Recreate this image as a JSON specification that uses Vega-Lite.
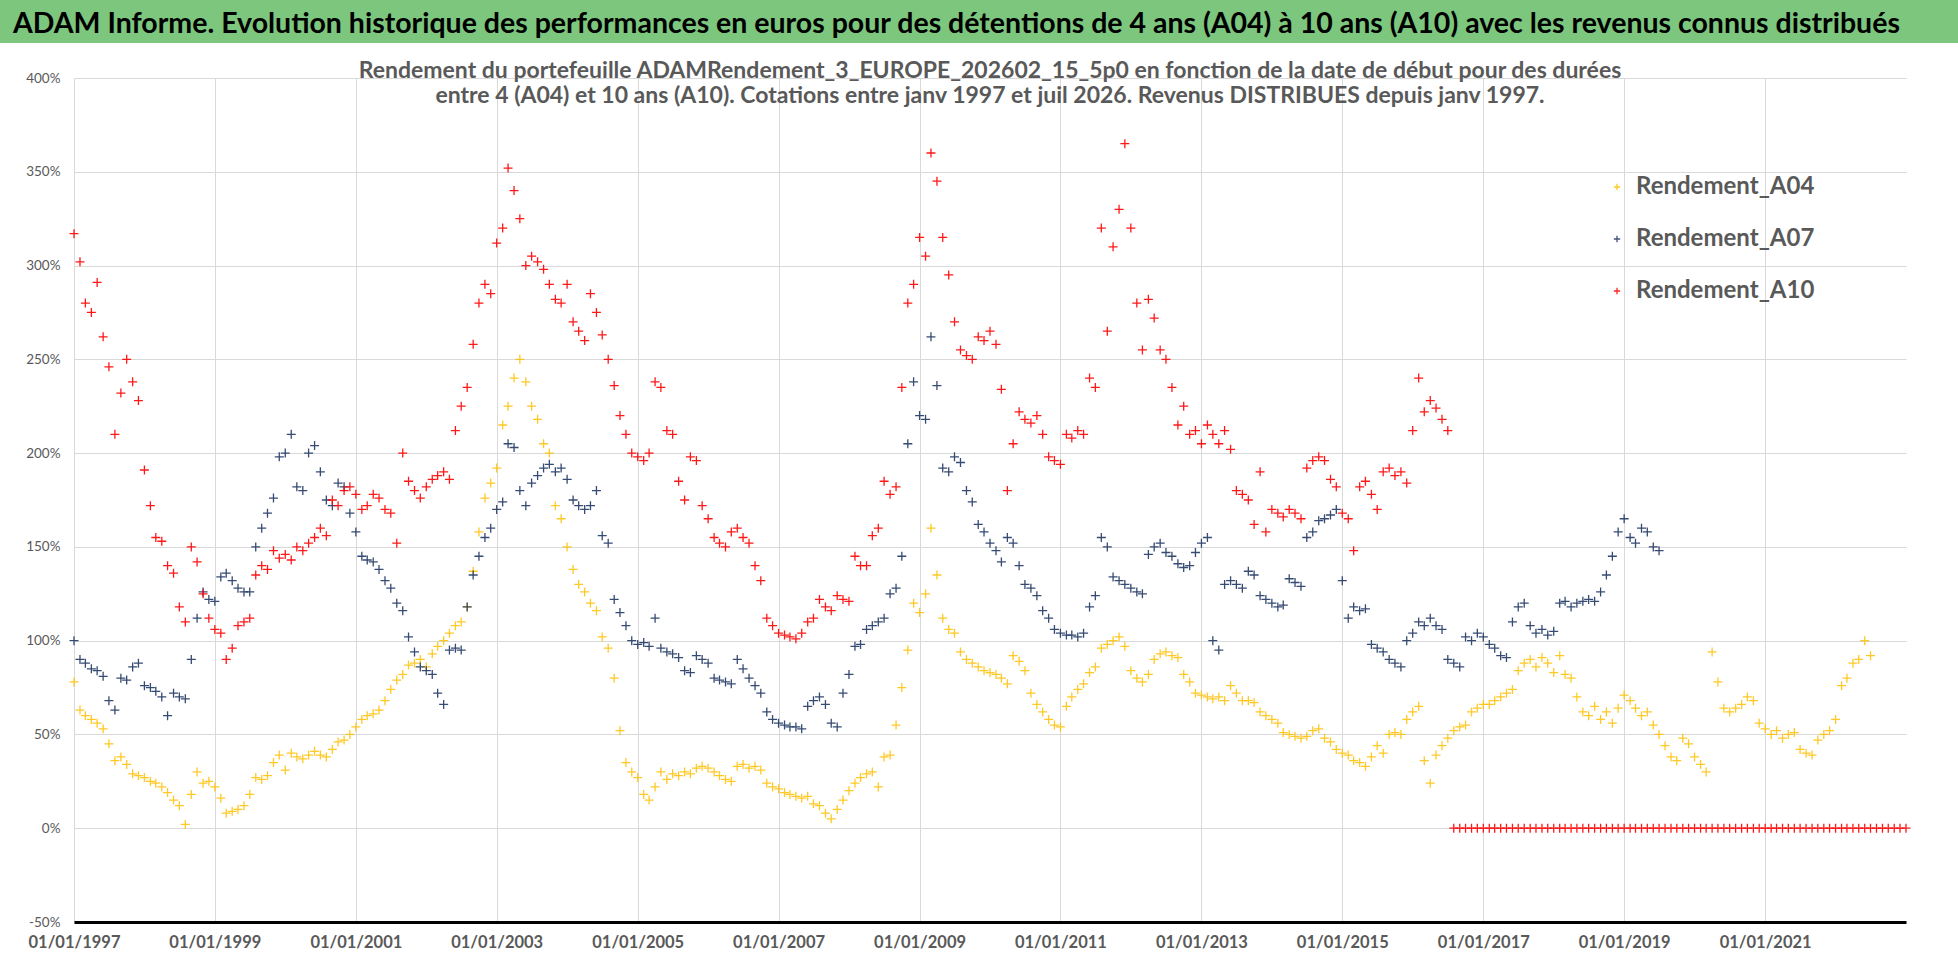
{
  "$schema": "https://vega.github.io/schema/vega-lite/v6.json",
  "background": "white",
  "padding": 0,
  "spacing": 35,
  "center": true,
  "bounds": "flush",
  "config": {"view": {"stroke": null}, "font": "Lato"},
  "datasets": {
    "A04": [
      {"d":"1997-01","r":78},{"d":"1997-02","r":63},{"d":"1997-03","r":60},{"d":"1997-04","r":58},{"d":"1997-05","r":56},{"d":"1997-06","r":53},{"d":"1997-07","r":45},{"d":"1997-08","r":36},{"d":"1997-09","r":38},{"d":"1997-10","r":34},{"d":"1997-11","r":29},{"d":"1997-12","r":28},
      {"d":"1998-01","r":27},{"d":"1998-02","r":25},{"d":"1998-03","r":24},{"d":"1998-04","r":22},{"d":"1998-05","r":19},{"d":"1998-06","r":15},{"d":"1998-07","r":12},{"d":"1998-08","r":2},{"d":"1998-09","r":18},{"d":"1998-10","r":30},{"d":"1998-11","r":24},{"d":"1998-12","r":25},
      {"d":"1999-01","r":22},{"d":"1999-02","r":16},{"d":"1999-03","r":8},{"d":"1999-04","r":9},{"d":"1999-05","r":10},{"d":"1999-06","r":12},{"d":"1999-07","r":18},{"d":"1999-08","r":27},{"d":"1999-09","r":26},{"d":"1999-10","r":28},{"d":"1999-11","r":35},{"d":"1999-12","r":39},
      {"d":"2000-01","r":31},{"d":"2000-02","r":40},{"d":"2000-03","r":38},{"d":"2000-04","r":37},{"d":"2000-05","r":39},{"d":"2000-06","r":41},{"d":"2000-07","r":39},{"d":"2000-08","r":38},{"d":"2000-09","r":42},{"d":"2000-10","r":46},{"d":"2000-11","r":47},{"d":"2000-12","r":50},
      {"d":"2001-01","r":54},{"d":"2001-02","r":58},{"d":"2001-03","r":60},{"d":"2001-04","r":61},{"d":"2001-05","r":63},{"d":"2001-06","r":68},{"d":"2001-07","r":74},{"d":"2001-08","r":79},{"d":"2001-09","r":82},{"d":"2001-10","r":87},{"d":"2001-11","r":88},{"d":"2001-12","r":90},
      {"d":"2002-01","r":86},{"d":"2002-02","r":93},{"d":"2002-03","r":97},{"d":"2002-04","r":100},{"d":"2002-05","r":104},{"d":"2002-06","r":108},{"d":"2002-07","r":110},{"d":"2002-08","r":118},{"d":"2002-09","r":137},{"d":"2002-10","r":158},{"d":"2002-11","r":176},{"d":"2002-12","r":184},
      {"d":"2003-01","r":192},{"d":"2003-02","r":215},{"d":"2003-03","r":225},{"d":"2003-04","r":240},{"d":"2003-05","r":250},{"d":"2003-06","r":238},{"d":"2003-07","r":225},{"d":"2003-08","r":218},{"d":"2003-09","r":205},{"d":"2003-10","r":200},{"d":"2003-11","r":172},{"d":"2003-12","r":165},
      {"d":"2004-01","r":150},{"d":"2004-02","r":138},{"d":"2004-03","r":130},{"d":"2004-04","r":126},{"d":"2004-05","r":120},{"d":"2004-06","r":116},{"d":"2004-07","r":102},{"d":"2004-08","r":96},{"d":"2004-09","r":80},{"d":"2004-10","r":52},{"d":"2004-11","r":35},{"d":"2004-12","r":30},
      {"d":"2005-01","r":27},{"d":"2005-02","r":18},{"d":"2005-03","r":15},{"d":"2005-04","r":22},{"d":"2005-05","r":30},{"d":"2005-06","r":26},{"d":"2005-07","r":29},{"d":"2005-08","r":28},{"d":"2005-09","r":30},{"d":"2005-10","r":29},{"d":"2005-11","r":32},{"d":"2005-12","r":33},
      {"d":"2006-01","r":32},{"d":"2006-02","r":30},{"d":"2006-03","r":28},{"d":"2006-04","r":26},{"d":"2006-05","r":25},{"d":"2006-06","r":33},{"d":"2006-07","r":34},{"d":"2006-08","r":32},{"d":"2006-09","r":33},{"d":"2006-10","r":31},{"d":"2006-11","r":24},{"d":"2006-12","r":22},
      {"d":"2007-01","r":21},{"d":"2007-02","r":19},{"d":"2007-03","r":18},{"d":"2007-04","r":17},{"d":"2007-05","r":16},{"d":"2007-06","r":17},{"d":"2007-07","r":13},{"d":"2007-08","r":12},{"d":"2007-09","r":8},{"d":"2007-10","r":5},{"d":"2007-11","r":10},{"d":"2007-12","r":15},
      {"d":"2008-01","r":20},{"d":"2008-02","r":24},{"d":"2008-03","r":27},{"d":"2008-04","r":29},{"d":"2008-05","r":30},{"d":"2008-06","r":22},{"d":"2008-07","r":38},{"d":"2008-08","r":39},{"d":"2008-09","r":55},{"d":"2008-10","r":75},{"d":"2008-11","r":95},{"d":"2008-12","r":120},
      {"d":"2009-01","r":115},{"d":"2009-02","r":125},{"d":"2009-03","r":160},{"d":"2009-04","r":135},{"d":"2009-05","r":112},{"d":"2009-06","r":106},{"d":"2009-07","r":104},{"d":"2009-08","r":94},{"d":"2009-09","r":90},{"d":"2009-10","r":88},{"d":"2009-11","r":86},{"d":"2009-12","r":84},
      {"d":"2010-01","r":83},{"d":"2010-02","r":82},{"d":"2010-03","r":80},{"d":"2010-04","r":77},{"d":"2010-05","r":92},{"d":"2010-06","r":89},{"d":"2010-07","r":84},{"d":"2010-08","r":72},{"d":"2010-09","r":66},{"d":"2010-10","r":62},{"d":"2010-11","r":58},{"d":"2010-12","r":55},
      {"d":"2011-01","r":54},{"d":"2011-02","r":65},{"d":"2011-03","r":70},{"d":"2011-04","r":74},{"d":"2011-05","r":77},{"d":"2011-06","r":83},{"d":"2011-07","r":86},{"d":"2011-08","r":96},{"d":"2011-09","r":98},{"d":"2011-10","r":100},{"d":"2011-11","r":102},{"d":"2011-12","r":97},
      {"d":"2012-01","r":84},{"d":"2012-02","r":80},{"d":"2012-03","r":78},{"d":"2012-04","r":82},{"d":"2012-05","r":90},{"d":"2012-06","r":93},{"d":"2012-07","r":94},{"d":"2012-08","r":92},{"d":"2012-09","r":91},{"d":"2012-10","r":82},{"d":"2012-11","r":78},{"d":"2012-12","r":72},
      {"d":"2013-01","r":71},{"d":"2013-02","r":70},{"d":"2013-03","r":69},{"d":"2013-04","r":70},{"d":"2013-05","r":68},{"d":"2013-06","r":76},{"d":"2013-07","r":72},{"d":"2013-08","r":68},{"d":"2013-09","r":68},{"d":"2013-10","r":67},{"d":"2013-11","r":62},{"d":"2013-12","r":60},
      {"d":"2014-01","r":58},{"d":"2014-02","r":56},{"d":"2014-03","r":51},{"d":"2014-04","r":50},{"d":"2014-05","r":49},{"d":"2014-06","r":48},{"d":"2014-07","r":49},{"d":"2014-08","r":52},{"d":"2014-09","r":53},{"d":"2014-10","r":48},{"d":"2014-11","r":46},{"d":"2014-12","r":42},
      {"d":"2015-01","r":40},{"d":"2015-02","r":39},{"d":"2015-03","r":36},{"d":"2015-04","r":35},{"d":"2015-05","r":33},{"d":"2015-06","r":38},{"d":"2015-07","r":44},{"d":"2015-08","r":40},{"d":"2015-09","r":50},{"d":"2015-10","r":51},{"d":"2015-11","r":50},{"d":"2015-12","r":58},
      {"d":"2016-01","r":62},{"d":"2016-02","r":65},{"d":"2016-03","r":36},{"d":"2016-04","r":24},{"d":"2016-05","r":39},{"d":"2016-06","r":44},{"d":"2016-07","r":48},{"d":"2016-08","r":52},{"d":"2016-09","r":54},{"d":"2016-10","r":55},{"d":"2016-11","r":62},{"d":"2016-12","r":64},
      {"d":"2017-01","r":66},{"d":"2017-02","r":66},{"d":"2017-03","r":68},{"d":"2017-04","r":70},{"d":"2017-05","r":72},{"d":"2017-06","r":74},{"d":"2017-07","r":84},{"d":"2017-08","r":88},{"d":"2017-09","r":90},{"d":"2017-10","r":86},{"d":"2017-11","r":91},{"d":"2017-12","r":88},
      {"d":"2018-01","r":83},{"d":"2018-02","r":92},{"d":"2018-03","r":82},{"d":"2018-04","r":80},{"d":"2018-05","r":70},{"d":"2018-06","r":62},{"d":"2018-07","r":60},{"d":"2018-08","r":65},{"d":"2018-09","r":58},{"d":"2018-10","r":62},{"d":"2018-11","r":56},{"d":"2018-12","r":64},
      {"d":"2019-01","r":71},{"d":"2019-02","r":68},{"d":"2019-03","r":64},{"d":"2019-04","r":60},{"d":"2019-05","r":62},{"d":"2019-06","r":55},{"d":"2019-07","r":50},{"d":"2019-08","r":44},{"d":"2019-09","r":38},{"d":"2019-10","r":36},{"d":"2019-11","r":48},{"d":"2019-12","r":45},
      {"d":"2020-01","r":38},{"d":"2020-02","r":34},{"d":"2020-03","r":30},{"d":"2020-04","r":94},{"d":"2020-05","r":78},{"d":"2020-06","r":64},{"d":"2020-07","r":62},{"d":"2020-08","r":64},{"d":"2020-09","r":66},{"d":"2020-10","r":70},{"d":"2020-11","r":68},{"d":"2020-12","r":56},
      {"d":"2021-01","r":53},{"d":"2021-02","r":50},{"d":"2021-03","r":52},{"d":"2021-04","r":48},{"d":"2021-05","r":50},{"d":"2021-06","r":51},{"d":"2021-07","r":42},{"d":"2021-08","r":40},{"d":"2021-09","r":39},{"d":"2021-10","r":47},{"d":"2021-11","r":50},{"d":"2021-12","r":52},
      {"d":"2022-01","r":58},{"d":"2022-02","r":76},{"d":"2022-03","r":80},{"d":"2022-04","r":88},{"d":"2022-05","r":90},{"d":"2022-06","r":100},{"d":"2022-07","r":92}
    ],
    "A07": [
      {"d":"1997-01","r":100},{"d":"1997-02","r":90},{"d":"1997-03","r":88},{"d":"1997-04","r":85},{"d":"1997-05","r":84},{"d":"1997-06","r":81},{"d":"1997-07","r":68},{"d":"1997-08","r":63},{"d":"1997-09","r":80},{"d":"1997-10","r":79},{"d":"1997-11","r":86},{"d":"1997-12","r":88},
      {"d":"1998-01","r":76},{"d":"1998-02","r":75},{"d":"1998-03","r":73},{"d":"1998-04","r":70},{"d":"1998-05","r":60},{"d":"1998-06","r":72},{"d":"1998-07","r":70},{"d":"1998-08","r":69},{"d":"1998-09","r":90},{"d":"1998-10","r":112},{"d":"1998-11","r":126},{"d":"1998-12","r":122},
      {"d":"1999-01","r":121},{"d":"1999-02","r":134},{"d":"1999-03","r":136},{"d":"1999-04","r":132},{"d":"1999-05","r":128},{"d":"1999-06","r":126},{"d":"1999-07","r":126},{"d":"1999-08","r":150},{"d":"1999-09","r":160},{"d":"1999-10","r":168},{"d":"1999-11","r":176},{"d":"1999-12","r":198},
      {"d":"2000-01","r":200},{"d":"2000-02","r":210},{"d":"2000-03","r":182},{"d":"2000-04","r":180},{"d":"2000-05","r":200},{"d":"2000-06","r":204},{"d":"2000-07","r":190},{"d":"2000-08","r":175},{"d":"2000-09","r":172},{"d":"2000-10","r":184},{"d":"2000-11","r":182},{"d":"2000-12","r":168},
      {"d":"2001-01","r":158},{"d":"2001-02","r":145},{"d":"2001-03","r":143},{"d":"2001-04","r":142},{"d":"2001-05","r":138},{"d":"2001-06","r":132},{"d":"2001-07","r":128},{"d":"2001-08","r":120},{"d":"2001-09","r":116},{"d":"2001-10","r":102},{"d":"2001-11","r":94},{"d":"2001-12","r":86},
      {"d":"2002-01","r":84},{"d":"2002-02","r":82},{"d":"2002-03","r":72},{"d":"2002-04","r":66},{"d":"2002-05","r":95},{"d":"2002-06","r":96},{"d":"2002-07","r":95},{"d":"2002-08","r":118},{"d":"2002-09","r":135},{"d":"2002-10","r":145},{"d":"2002-11","r":155},{"d":"2002-12","r":160},
      {"d":"2003-01","r":170},{"d":"2003-02","r":174},{"d":"2003-03","r":205},{"d":"2003-04","r":203},{"d":"2003-05","r":180},{"d":"2003-06","r":172},{"d":"2003-07","r":184},{"d":"2003-08","r":188},{"d":"2003-09","r":192},{"d":"2003-10","r":194},{"d":"2003-11","r":190},{"d":"2003-12","r":192},
      {"d":"2004-01","r":186},{"d":"2004-02","r":175},{"d":"2004-03","r":172},{"d":"2004-04","r":170},{"d":"2004-05","r":172},{"d":"2004-06","r":180},{"d":"2004-07","r":156},{"d":"2004-08","r":152},{"d":"2004-09","r":122},{"d":"2004-10","r":115},{"d":"2004-11","r":108},{"d":"2004-12","r":100},
      {"d":"2005-01","r":98},{"d":"2005-02","r":99},{"d":"2005-03","r":97},{"d":"2005-04","r":112},{"d":"2005-05","r":96},{"d":"2005-06","r":94},{"d":"2005-07","r":93},{"d":"2005-08","r":91},{"d":"2005-09","r":84},{"d":"2005-10","r":83},{"d":"2005-11","r":92},{"d":"2005-12","r":90},
      {"d":"2006-01","r":88},{"d":"2006-02","r":80},{"d":"2006-03","r":79},{"d":"2006-04","r":78},{"d":"2006-05","r":77},{"d":"2006-06","r":90},{"d":"2006-07","r":85},{"d":"2006-08","r":80},{"d":"2006-09","r":76},{"d":"2006-10","r":72},{"d":"2006-11","r":62},{"d":"2006-12","r":58},
      {"d":"2007-01","r":56},{"d":"2007-02","r":55},{"d":"2007-03","r":54},{"d":"2007-04","r":54},{"d":"2007-05","r":53},{"d":"2007-06","r":65},{"d":"2007-07","r":68},{"d":"2007-08","r":70},{"d":"2007-09","r":66},{"d":"2007-10","r":56},{"d":"2007-11","r":54},{"d":"2007-12","r":72},
      {"d":"2008-01","r":82},{"d":"2008-02","r":97},{"d":"2008-03","r":98},{"d":"2008-04","r":106},{"d":"2008-05","r":108},{"d":"2008-06","r":110},{"d":"2008-07","r":112},{"d":"2008-08","r":125},{"d":"2008-09","r":128},{"d":"2008-10","r":145},{"d":"2008-11","r":205},{"d":"2008-12","r":238},
      {"d":"2009-01","r":220},{"d":"2009-02","r":218},{"d":"2009-03","r":262},{"d":"2009-04","r":236},{"d":"2009-05","r":192},{"d":"2009-06","r":190},{"d":"2009-07","r":198},{"d":"2009-08","r":195},{"d":"2009-09","r":180},{"d":"2009-10","r":174},{"d":"2009-11","r":162},{"d":"2009-12","r":158},
      {"d":"2010-01","r":152},{"d":"2010-02","r":148},{"d":"2010-03","r":142},{"d":"2010-04","r":155},{"d":"2010-05","r":152},{"d":"2010-06","r":140},{"d":"2010-07","r":130},{"d":"2010-08","r":128},{"d":"2010-09","r":124},{"d":"2010-10","r":116},{"d":"2010-11","r":112},{"d":"2010-12","r":106},
      {"d":"2011-01","r":104},{"d":"2011-02","r":103},{"d":"2011-03","r":103},{"d":"2011-04","r":102},{"d":"2011-05","r":104},{"d":"2011-06","r":118},{"d":"2011-07","r":124},{"d":"2011-08","r":155},{"d":"2011-09","r":150},{"d":"2011-10","r":134},{"d":"2011-11","r":132},{"d":"2011-12","r":130},
      {"d":"2012-01","r":128},{"d":"2012-02","r":126},{"d":"2012-03","r":125},{"d":"2012-04","r":146},{"d":"2012-05","r":150},{"d":"2012-06","r":152},{"d":"2012-07","r":147},{"d":"2012-08","r":145},{"d":"2012-09","r":141},{"d":"2012-10","r":139},{"d":"2012-11","r":140},{"d":"2012-12","r":147},
      {"d":"2013-01","r":152},{"d":"2013-02","r":155},{"d":"2013-03","r":100},{"d":"2013-04","r":95},{"d":"2013-05","r":130},{"d":"2013-06","r":132},{"d":"2013-07","r":130},{"d":"2013-08","r":128},{"d":"2013-09","r":137},{"d":"2013-10","r":135},{"d":"2013-11","r":124},{"d":"2013-12","r":122},
      {"d":"2014-01","r":120},{"d":"2014-02","r":118},{"d":"2014-03","r":119},{"d":"2014-04","r":133},{"d":"2014-05","r":131},{"d":"2014-06","r":129},{"d":"2014-07","r":155},{"d":"2014-08","r":158},{"d":"2014-09","r":164},{"d":"2014-10","r":165},{"d":"2014-11","r":167},{"d":"2014-12","r":170},
      {"d":"2015-01","r":132},{"d":"2015-02","r":112},{"d":"2015-03","r":118},{"d":"2015-04","r":116},{"d":"2015-05","r":117},{"d":"2015-06","r":98},{"d":"2015-07","r":96},{"d":"2015-08","r":94},{"d":"2015-09","r":90},{"d":"2015-10","r":88},{"d":"2015-11","r":86},{"d":"2015-12","r":100},
      {"d":"2016-01","r":104},{"d":"2016-02","r":110},{"d":"2016-03","r":108},{"d":"2016-04","r":112},{"d":"2016-05","r":108},{"d":"2016-06","r":106},{"d":"2016-07","r":90},{"d":"2016-08","r":88},{"d":"2016-09","r":86},{"d":"2016-10","r":102},{"d":"2016-11","r":100},{"d":"2016-12","r":104},
      {"d":"2017-01","r":102},{"d":"2017-02","r":98},{"d":"2017-03","r":96},{"d":"2017-04","r":92},{"d":"2017-05","r":91},{"d":"2017-06","r":110},{"d":"2017-07","r":118},{"d":"2017-08","r":120},{"d":"2017-09","r":108},{"d":"2017-10","r":104},{"d":"2017-11","r":106},{"d":"2017-12","r":103},
      {"d":"2018-01","r":105},{"d":"2018-02","r":120},{"d":"2018-03","r":121},{"d":"2018-04","r":118},{"d":"2018-05","r":120},{"d":"2018-06","r":121},{"d":"2018-07","r":122},{"d":"2018-08","r":121},{"d":"2018-09","r":126},{"d":"2018-10","r":135},{"d":"2018-11","r":145},{"d":"2018-12","r":158},
      {"d":"2019-01","r":165},{"d":"2019-02","r":155},{"d":"2019-03","r":152},{"d":"2019-04","r":160},{"d":"2019-05","r":158},{"d":"2019-06","r":150},{"d":"2019-07","r":148}
    ],
    "A10": [
      {"d":"1997-01","r":317},{"d":"1997-02","r":302},{"d":"1997-03","r":280},{"d":"1997-04","r":275},{"d":"1997-05","r":291},{"d":"1997-06","r":262},{"d":"1997-07","r":246},{"d":"1997-08","r":210},{"d":"1997-09","r":232},{"d":"1997-10","r":250},{"d":"1997-11","r":238},{"d":"1997-12","r":228},
      {"d":"1998-01","r":191},{"d":"1998-02","r":172},{"d":"1998-03","r":155},{"d":"1998-04","r":153},{"d":"1998-05","r":140},{"d":"1998-06","r":136},{"d":"1998-07","r":118},{"d":"1998-08","r":110},{"d":"1998-09","r":150},{"d":"1998-10","r":142},{"d":"1998-11","r":125},{"d":"1998-12","r":112},
      {"d":"1999-01","r":106},{"d":"1999-02","r":104},{"d":"1999-03","r":90},{"d":"1999-04","r":96},{"d":"1999-05","r":108},{"d":"1999-06","r":110},{"d":"1999-07","r":112},{"d":"1999-08","r":135},{"d":"1999-09","r":140},{"d":"1999-10","r":138},{"d":"1999-11","r":148},{"d":"1999-12","r":144},
      {"d":"2000-01","r":146},{"d":"2000-02","r":143},{"d":"2000-03","r":150},{"d":"2000-04","r":148},{"d":"2000-05","r":152},{"d":"2000-06","r":155},{"d":"2000-07","r":160},{"d":"2000-08","r":156},{"d":"2000-09","r":175},{"d":"2000-10","r":172},{"d":"2000-11","r":180},{"d":"2000-12","r":182},
      {"d":"2001-01","r":178},{"d":"2001-02","r":170},{"d":"2001-03","r":172},{"d":"2001-04","r":178},{"d":"2001-05","r":176},{"d":"2001-06","r":170},{"d":"2001-07","r":168},{"d":"2001-08","r":152},{"d":"2001-09","r":200},{"d":"2001-10","r":185},{"d":"2001-11","r":180},{"d":"2001-12","r":176},
      {"d":"2002-01","r":182},{"d":"2002-02","r":186},{"d":"2002-03","r":188},{"d":"2002-04","r":190},{"d":"2002-05","r":186},{"d":"2002-06","r":212},{"d":"2002-07","r":225},{"d":"2002-08","r":235},{"d":"2002-09","r":258},{"d":"2002-10","r":280},{"d":"2002-11","r":290},{"d":"2002-12","r":285},
      {"d":"2003-01","r":312},{"d":"2003-02","r":320},{"d":"2003-03","r":352},{"d":"2003-04","r":340},{"d":"2003-05","r":325},{"d":"2003-06","r":300},{"d":"2003-07","r":305},{"d":"2003-08","r":302},{"d":"2003-09","r":298},{"d":"2003-10","r":290},{"d":"2003-11","r":282},{"d":"2003-12","r":280},
      {"d":"2004-01","r":290},{"d":"2004-02","r":270},{"d":"2004-03","r":265},{"d":"2004-04","r":260},{"d":"2004-05","r":285},{"d":"2004-06","r":275},{"d":"2004-07","r":263},{"d":"2004-08","r":250},{"d":"2004-09","r":236},{"d":"2004-10","r":220},{"d":"2004-11","r":210},{"d":"2004-12","r":200},
      {"d":"2005-01","r":198},{"d":"2005-02","r":196},{"d":"2005-03","r":200},{"d":"2005-04","r":238},{"d":"2005-05","r":235},{"d":"2005-06","r":212},{"d":"2005-07","r":210},{"d":"2005-08","r":185},{"d":"2005-09","r":175},{"d":"2005-10","r":198},{"d":"2005-11","r":196},{"d":"2005-12","r":172},
      {"d":"2006-01","r":165},{"d":"2006-02","r":155},{"d":"2006-03","r":152},{"d":"2006-04","r":150},{"d":"2006-05","r":158},{"d":"2006-06","r":160},{"d":"2006-07","r":155},{"d":"2006-08","r":152},{"d":"2006-09","r":140},{"d":"2006-10","r":132},{"d":"2006-11","r":112},{"d":"2006-12","r":108},
      {"d":"2007-01","r":104},{"d":"2007-02","r":103},{"d":"2007-03","r":102},{"d":"2007-04","r":101},{"d":"2007-05","r":104},{"d":"2007-06","r":110},{"d":"2007-07","r":112},{"d":"2007-08","r":122},{"d":"2007-09","r":118},{"d":"2007-10","r":116},{"d":"2007-11","r":124},{"d":"2007-12","r":122},
      {"d":"2008-01","r":121},{"d":"2008-02","r":145},{"d":"2008-03","r":140},{"d":"2008-04","r":140},{"d":"2008-05","r":156},{"d":"2008-06","r":160},{"d":"2008-07","r":185},{"d":"2008-08","r":178},{"d":"2008-09","r":182},{"d":"2008-10","r":235},{"d":"2008-11","r":280},{"d":"2008-12","r":290},
      {"d":"2009-01","r":315},{"d":"2009-02","r":305},{"d":"2009-03","r":360},{"d":"2009-04","r":345},{"d":"2009-05","r":315},{"d":"2009-06","r":295},{"d":"2009-07","r":270},{"d":"2009-08","r":255},{"d":"2009-09","r":252},{"d":"2009-10","r":250},{"d":"2009-11","r":262},{"d":"2009-12","r":260},
      {"d":"2010-01","r":265},{"d":"2010-02","r":258},{"d":"2010-03","r":234},{"d":"2010-04","r":180},{"d":"2010-05","r":205},{"d":"2010-06","r":222},{"d":"2010-07","r":218},{"d":"2010-08","r":216},{"d":"2010-09","r":220},{"d":"2010-10","r":210},{"d":"2010-11","r":198},{"d":"2010-12","r":196},
      {"d":"2011-01","r":194},{"d":"2011-02","r":210},{"d":"2011-03","r":208},{"d":"2011-04","r":212},{"d":"2011-05","r":210},{"d":"2011-06","r":240},{"d":"2011-07","r":235},{"d":"2011-08","r":320},{"d":"2011-09","r":265},{"d":"2011-10","r":310},{"d":"2011-11","r":330},{"d":"2011-12","r":365},
      {"d":"2012-01","r":320},{"d":"2012-02","r":280},{"d":"2012-03","r":255},{"d":"2012-04","r":282},{"d":"2012-05","r":272},{"d":"2012-06","r":255},{"d":"2012-07","r":250},{"d":"2012-08","r":235},{"d":"2012-09","r":215},{"d":"2012-10","r":225},{"d":"2012-11","r":210},{"d":"2012-12","r":212},
      {"d":"2013-01","r":205},{"d":"2013-02","r":215},{"d":"2013-03","r":210},{"d":"2013-04","r":205},{"d":"2013-05","r":212},{"d":"2013-06","r":202},{"d":"2013-07","r":180},{"d":"2013-08","r":178},{"d":"2013-09","r":175},{"d":"2013-10","r":162},{"d":"2013-11","r":190},{"d":"2013-12","r":158},
      {"d":"2014-01","r":170},{"d":"2014-02","r":168},{"d":"2014-03","r":166},{"d":"2014-04","r":170},{"d":"2014-05","r":168},{"d":"2014-06","r":165},{"d":"2014-07","r":192},{"d":"2014-08","r":196},{"d":"2014-09","r":198},{"d":"2014-10","r":196},{"d":"2014-11","r":186},{"d":"2014-12","r":182},
      {"d":"2015-01","r":168},{"d":"2015-02","r":165},{"d":"2015-03","r":148},{"d":"2015-04","r":182},{"d":"2015-05","r":185},{"d":"2015-06","r":178},{"d":"2015-07","r":170},{"d":"2015-08","r":190},{"d":"2015-09","r":192},{"d":"2015-10","r":188},{"d":"2015-11","r":190},{"d":"2015-12","r":184},
      {"d":"2016-01","r":212},{"d":"2016-02","r":240},{"d":"2016-03","r":222},{"d":"2016-04","r":228},{"d":"2016-05","r":224},{"d":"2016-06","r":218},{"d":"2016-07","r":212},
      {"d":"2016-08","r":0},{"d":"2016-09","r":0},{"d":"2016-10","r":0},{"d":"2016-11","r":0},{"d":"2016-12","r":0},
      {"d":"2017-01","r":0},{"d":"2017-02","r":0},{"d":"2017-03","r":0},{"d":"2017-04","r":0},{"d":"2017-05","r":0},{"d":"2017-06","r":0},{"d":"2017-07","r":0},{"d":"2017-08","r":0},{"d":"2017-09","r":0},{"d":"2017-10","r":0},{"d":"2017-11","r":0},{"d":"2017-12","r":0},
      {"d":"2018-01","r":0},{"d":"2018-02","r":0},{"d":"2018-03","r":0},{"d":"2018-04","r":0},{"d":"2018-05","r":0},{"d":"2018-06","r":0},{"d":"2018-07","r":0},{"d":"2018-08","r":0},{"d":"2018-09","r":0},{"d":"2018-10","r":0},{"d":"2018-11","r":0},{"d":"2018-12","r":0},
      {"d":"2019-01","r":0},{"d":"2019-02","r":0},{"d":"2019-03","r":0},{"d":"2019-04","r":0},{"d":"2019-05","r":0},{"d":"2019-06","r":0},{"d":"2019-07","r":0},{"d":"2019-08","r":0},{"d":"2019-09","r":0},{"d":"2019-10","r":0},{"d":"2019-11","r":0},{"d":"2019-12","r":0},
      {"d":"2020-01","r":0},{"d":"2020-02","r":0},{"d":"2020-03","r":0},{"d":"2020-04","r":0},{"d":"2020-05","r":0},{"d":"2020-06","r":0},{"d":"2020-07","r":0},{"d":"2020-08","r":0},{"d":"2020-09","r":0},{"d":"2020-10","r":0},{"d":"2020-11","r":0},{"d":"2020-12","r":0},
      {"d":"2021-01","r":0},{"d":"2021-02","r":0},{"d":"2021-03","r":0},{"d":"2021-04","r":0},{"d":"2021-05","r":0},{"d":"2021-06","r":0},{"d":"2021-07","r":0},{"d":"2021-08","r":0},{"d":"2021-09","r":0},{"d":"2021-10","r":0},{"d":"2021-11","r":0},{"d":"2021-12","r":0},
      {"d":"2022-01","r":0},{"d":"2022-02","r":0},{"d":"2022-03","r":0},{"d":"2022-04","r":0},{"d":"2022-05","r":0},{"d":"2022-06","r":0},{"d":"2022-07","r":0},{"d":"2022-08","r":0},{"d":"2022-09","r":0},{"d":"2022-10","r":0},{"d":"2022-11","r":0},{"d":"2022-12","r":0},
      {"d":"2023-01","r":0}
    ]
  },
  "vconcat": [
    {
      "width": 1980,
      "height": 43,
      "view": {"fill": "#7CC67E", "stroke": null},
      "data": {"values": [{"t": "ADAM Informe. Evolution historique des performances en euros pour des détentions de 4 ans (A04) à 10 ans (A10) avec les revenus connus distribués"}]},
      "mark": {"type": "text", "align": "left", "baseline": "middle", "dx": 13, "dy": 2, "font": "Lato", "fontSize": 28.5, "fontWeight": "bold", "color": "#000000"},
      "encoding": {
        "x": {"datum": 0, "type": "quantitative", "scale": {"domain": [0, 1]}, "axis": null},
        "text": {"field": "t"}
      }
    },
    {
      "width": 1832,
      "height": 844,
      "title": {
        "text": [
          "Rendement du portefeuille ADAMRendement_3_EUROPE_202602_15_5p0  en fonction de la date de début pour des durées",
          "entre 4 (A04) et 10 ans (A10). Cotations entre janv 1997 et juil 2026. Revenus DISTRIBUES depuis janv 1997."
        ],
        "anchor": "middle",
        "font": "Lato",
        "fontSize": 23,
        "fontWeight": "bold",
        "color": "#595959",
        "lineHeight": 25,
        "baseline": "top",
        "offset": -37
      },
      "encoding": {
        "x": {
          "field": "d",
          "type": "temporal",
          "scale": {"type": "utc", "domain": [{"year": 1997, "month": 1, "date": 1, "utc": true}, {"year": 2023, "month": 1, "date": 1, "utc": true}]},
          "axis": {
            "title": null,
            "values": [
              {"year": 1997, "month": 1, "date": 1, "utc": true},
              {"year": 1999, "month": 1, "date": 1, "utc": true},
              {"year": 2001, "month": 1, "date": 1, "utc": true},
              {"year": 2003, "month": 1, "date": 1, "utc": true},
              {"year": 2005, "month": 1, "date": 1, "utc": true},
              {"year": 2007, "month": 1, "date": 1, "utc": true},
              {"year": 2009, "month": 1, "date": 1, "utc": true},
              {"year": 2011, "month": 1, "date": 1, "utc": true},
              {"year": 2013, "month": 1, "date": 1, "utc": true},
              {"year": 2015, "month": 1, "date": 1, "utc": true},
              {"year": 2017, "month": 1, "date": 1, "utc": true},
              {"year": 2019, "month": 1, "date": 1, "utc": true},
              {"year": 2021, "month": 1, "date": 1, "utc": true}
            ],
            "format": "%d/%m/%Y",
            "grid": true,
            "gridColor": "#D9D9D9",
            "ticks": false,
            "domainColor": "#000000",
            "domainWidth": 3,
            "labelFont": "Lato",
            "labelFontSize": 16.5,
            "labelFontWeight": "bold",
            "labelColor": "#595959",
            "labelPadding": 12,
            "labelFlush": false,
            "labelOverlap": false
          }
        },
        "y": {
          "field": "r",
          "type": "quantitative",
          "scale": {"domain": [-50, 400], "nice": false, "zero": false},
          "axis": {
            "title": null,
            "values": [-50, 0, 50, 100, 150, 200, 250, 300, 350, 400],
            "labelExpr": "datum.value + '%'",
            "grid": true,
            "gridColor": "#D9D9D9",
            "ticks": false,
            "domain": false,
            "labelFont": "Lato",
            "labelFontSize": 13.5,
            "labelColor": "#595959",
            "labelPadding": 14
          }
        }
      },
      "layer": [
        {
          "data": {"name": "A04"},
          "mark": {"type": "point", "shape": "M-1,0L1,0M0,-1L0,1", "filled": false, "size": 81, "strokeWidth": 1.3, "opacity": 0.85},
          "encoding": {
            "color": {
              "datum": "A04",
              "scale": {"domain": ["A04", "A07", "A10"], "range": ["#FFC000", "#203864", "#FF0000"]},
              "legend": {
                "orient": "none",
                "legendX": 1605,
                "legendY": 175,
                "title": null,
                "labelExpr": "'Rendement_' + datum.label",
                "labelFont": "Lato",
                "labelFontSize": 24,
                "labelFontWeight": "bold",
                "labelColor": "#595959",
                "labelLimit": 400,
                "labelOffset": 7,
                "symbolType": "M-1,0L1,0M0,-1L0,1",
                "symbolSize": 40,
                "symbolStrokeWidth": 1.3,
                "rowPadding": 28
              }
            }
          }
        },
        {
          "data": {"name": "A07"},
          "mark": {"type": "point", "shape": "M-1,0L1,0M0,-1L0,1", "filled": false, "size": 81, "strokeWidth": 1.3, "opacity": 0.9},
          "encoding": {"color": {"datum": "A07"}}
        },
        {
          "data": {"name": "A10"},
          "mark": {"type": "point", "shape": "M-1,0L1,0M0,-1L0,1", "filled": false, "size": 81, "strokeWidth": 1.3, "opacity": 0.9},
          "encoding": {"color": {"datum": "A10"}}
        }
      ]
    }
  ]
}
